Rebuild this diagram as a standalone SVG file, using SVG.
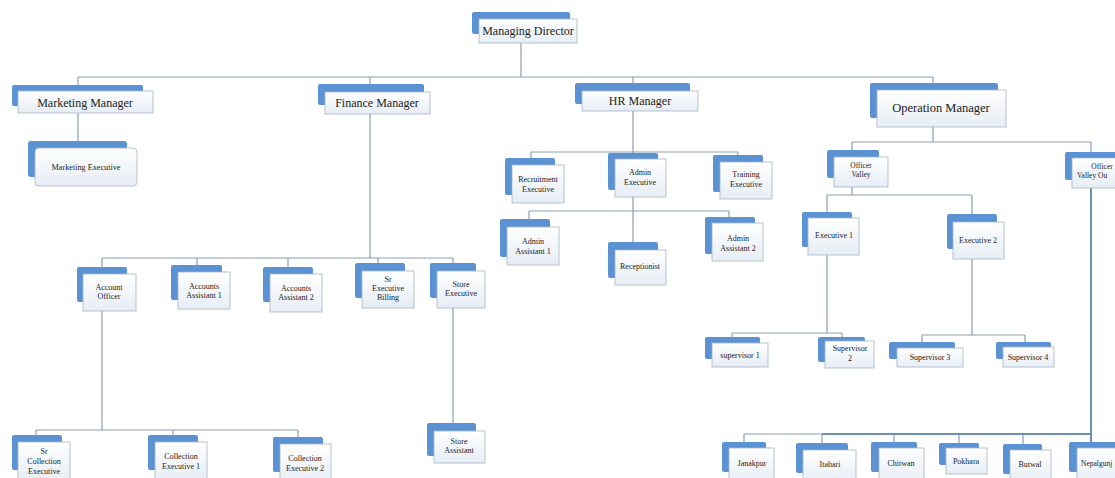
<svg xmlns="http://www.w3.org/2000/svg" width="1115" height="478" viewBox="0 0 1115 478">
<defs>
<linearGradient id="wg" x1="0" y1="0" x2="0" y2="1">
<stop offset="0" stop-color="#ffffff"/>
<stop offset="1" stop-color="#e6edf5"/>
</linearGradient>
</defs>
<style>
.b{fill:#5b92d4}
.w{fill:url(#wg);stroke:#a9b5c1;stroke-width:0.8}
.t{font-family:"Liberation Serif","Times New Roman",serif;font-size:12px;fill:#222;text-anchor:middle}
.s{font-family:"Liberation Serif","Times New Roman",serif;font-size:8px;fill:#222;text-anchor:middle}
.c{fill:none;stroke:#8a9fb3;stroke-width:1.2}
.k{fill:none;stroke:#6f8fac;stroke-width:2}
</style>
<rect width="1115" height="478" fill="#ffffff"/>
<g id="connectors">
<path class="c" d="M521 43V77M78 77H933M78 77V85M370 77V84M633 77V83M933 77V83"/>
<path class="c" d="M78 113V141"/>
<path class="c" d="M370 114V258M102 258H453M102 258V267M197 258V265M288 258V267M378 258V263M453 258V263"/>
<path class="c" d="M102 311V430M36 430H298M36 430V435M173 430V435M298 430V437"/>
<path class="c" d="M453 308V423"/>
<path class="c" d="M633 111V152M531 152H738M531 152V158M633 152V153M738 152V155"/>
<path class="c" d="M633 197V242M529 211H729M529 211V219M729 211V217"/>
<path class="c" d="M933 127V142M852 142H1091M852 142V150M1091 142V152"/>
<path class="c" d="M852 187V195M827 195H972M827 195V212M972 195V214"/>
<path class="c" d="M827 255V333M732 333H842M732 333V337M842 333V337"/>
<path class="c" d="M972 259V335M922 335H1025M922 335V342M1025 335V342"/>
<path class="c" d="M744 434H822M744 434V442M822 434V443M894 434V442M959 434V443M1023 434V444"/>
<path class="k" d="M1091 188V442M822 434H1091"/>
</g>
<g id="md"><rect class="b" x="472" y="12" width="98" height="22" rx="2"/><rect class="w" x="479" y="19" width="98" height="24"/><text class="t" x="528" y="35">Managing Director</text></g>
<g id="marketing-manager"><rect class="b" x="12" y="85" width="131" height="21" rx="2"/><rect class="w" x="18" y="91" width="135" height="22"/><text class="t" x="85" y="107">Marketing Manager</text></g>
<g id="finance-manager"><rect class="b" x="318" y="84" width="106" height="21" rx="2"/><rect class="w" x="325" y="92" width="105" height="22"/><text class="t" x="377" y="107">Finance Manager</text></g>
<g id="hr-manager"><rect class="b" x="575" y="83" width="115" height="21" rx="2"/><rect class="w" x="582" y="91" width="116" height="20"/><text class="t" x="640" y="105">HR Manager</text></g>
<g id="operation-manager"><rect class="b" x="870" y="83" width="128" height="35" rx="2"/><rect class="w" x="877" y="90" width="129" height="37"/><text class="t" x="941" y="112" style="font-size:12.5px">Operation Manager</text></g>
<g id="marketing-executive"><rect class="b" x="28" y="141" width="99" height="36" rx="3"/><rect class="w" x="35" y="148" width="102" height="38" rx="4"/><text class="s" x="86" y="170" style="font-size:8.2px">Marketing Executive</text></g>
<g id="account-officer"><rect class="b" x="77" y="267" width="50" height="35" rx="2"/><rect class="w" x="83" y="274" width="53" height="37"/><text class="s" x="109" y="290">Account</text><text class="s" x="109" y="299">Officer</text></g>
<g id="accounts-assistant-1"><rect class="b" x="171" y="265" width="51" height="35" rx="2"/><rect class="w" x="178" y="272" width="52" height="37"/><text class="s" x="204" y="289">Accounts</text><text class="s" x="204" y="298">Assistant 1</text></g>
<g id="accounts-assistant-2"><rect class="b" x="263" y="267" width="50" height="35" rx="2"/><rect class="w" x="270" y="274" width="52" height="38"/><text class="s" x="296" y="291">Accounts</text><text class="s" x="296" y="300">Assistant 2</text></g>
<g id="sr-executive-billing"><rect class="b" x="355" y="263" width="50" height="35" rx="2"/><rect class="w" x="362" y="271" width="52" height="37"/><text class="s" x="388" y="282">Sr</text><text class="s" x="388" y="291">Executive</text><text class="s" x="388" y="300">Billing</text></g>
<g id="store-executive"><rect class="b" x="430" y="263" width="46" height="35" rx="2"/><rect class="w" x="437" y="271" width="48" height="37"/><text class="s" x="461" y="287">Store</text><text class="s" x="461" y="296">Executive</text></g>
<g id="sr-collection-executive"><rect class="b" x="12" y="435" width="50" height="35" rx="2"/><rect class="w" x="18" y="442" width="52" height="40"/><text class="s" x="44" y="454">Sr</text><text class="s" x="44" y="464">Collection</text><text class="s" x="44" y="474">Executive</text></g>
<g id="collection-executive-1"><rect class="b" x="148" y="435" width="50" height="35" rx="2"/><rect class="w" x="155" y="442" width="52" height="40"/><text class="s" x="181" y="459">Collection</text><text class="s" x="181" y="469">Executive 1</text></g>
<g id="collection-executive-2"><rect class="b" x="273" y="437" width="50" height="35" rx="2"/><rect class="w" x="280" y="444" width="51" height="40"/><text class="s" x="305" y="461">Collection</text><text class="s" x="305" y="471">Executive 2</text></g>
<g id="store-assistant"><rect class="b" x="427" y="423" width="49" height="33" rx="2"/><rect class="w" x="434" y="431" width="51" height="32"/><text class="s" x="459" y="444">Store</text><text class="s" x="459" y="453">Assistant</text></g>
<g id="recruitment-executive"><rect class="b" x="505" y="158" width="50" height="37" rx="2"/><rect class="w" x="512" y="165" width="52" height="38"/><text class="s" x="538" y="182">Recruitment</text><text class="s" x="538" y="192">Executive</text></g>
<g id="admin-executive"><rect class="b" x="608" y="153" width="50" height="37" rx="2"/><rect class="w" x="615" y="159" width="51" height="38"/><text class="s" x="640" y="175">Admin</text><text class="s" x="640" y="185">Executive</text></g>
<g id="training-executive"><rect class="b" x="713" y="155" width="50" height="37" rx="2"/><rect class="w" x="720" y="162" width="52" height="37"/><text class="s" x="746" y="177">Training</text><text class="s" x="746" y="187">Executive</text></g>
<g id="admin-assistant-1"><rect class="b" x="500" y="219" width="50" height="38" rx="2"/><rect class="w" x="507" y="227" width="52" height="38"/><text class="s" x="533" y="244">Admin</text><text class="s" x="533" y="254">Assistant 1</text></g>
<g id="receptionist"><rect class="b" x="608" y="242" width="50" height="36" rx="2"/><rect class="w" x="615" y="250" width="51" height="35"/><text class="s" x="640" y="269">Receptionist</text></g>
<g id="admin-assistant-2"><rect class="b" x="705" y="217" width="50" height="37" rx="2"/><rect class="w" x="712" y="223" width="51" height="38"/><text class="s" x="738" y="241">Admin</text><text class="s" x="738" y="251">Assistant 2</text></g>
<g id="officer-valley"><rect class="b" x="827" y="150" width="52" height="28" rx="2"/><rect class="w" x="834" y="157" width="54" height="30"/><text class="s" x="861" y="168" style="font-size:7.5px">Officer</text><text class="s" x="861" y="177" style="font-size:7.5px">Valley</text></g>
<g id="officer-valley-outside"><rect class="b" x="1065" y="152" width="60" height="28" rx="2"/><rect class="w" x="1072" y="158" width="60" height="30"/><text class="s" x="1102" y="169" style="font-size:7.5px">Officer</text><text class="s" x="1077" y="178" style="font-size:7.5px;text-anchor:start">Valley Ou</text></g>
<g id="executive-1"><rect class="b" x="802" y="212" width="50" height="35" rx="2"/><rect class="w" x="808" y="218" width="51" height="37"/><text class="s" x="834" y="238">Executive 1</text></g>
<g id="executive-2"><rect class="b" x="947" y="214" width="50" height="35" rx="2"/><rect class="w" x="953" y="222" width="51" height="37"/><text class="s" x="978" y="243">Executive 2</text></g>
<g id="supervisor-1"><rect class="b" x="705" y="337" width="55" height="22" rx="2"/><rect class="w" x="712" y="343" width="56" height="24"/><text class="s" x="740" y="358">supervisor 1</text></g>
<g id="supervisor-2"><rect class="b" x="818" y="337" width="47" height="25" rx="2"/><rect class="w" x="825" y="341" width="49" height="27"/><text class="s" x="850" y="351">Supervisor</text><text class="s" x="850" y="361">2</text></g>
<g id="supervisor-3"><rect class="b" x="889" y="342" width="66" height="17" rx="2"/><rect class="w" x="897" y="348" width="66" height="19"/><text class="s" x="930" y="360">Supervisor 3</text></g>
<g id="supervisor-4"><rect class="b" x="996" y="342" width="55" height="17" rx="2"/><rect class="w" x="1003" y="347" width="51" height="20"/><text class="s" x="1028" y="360">Supervisor 4</text></g>
<g id="janakpur"><rect class="b" x="722" y="442" width="44" height="30" rx="2"/><rect class="w" x="729" y="448" width="45" height="35"/><text class="s" x="752" y="466">Janakpur</text></g>
<g id="itahari"><rect class="b" x="796" y="443" width="52" height="30" rx="2"/><rect class="w" x="803" y="450" width="53" height="33"/><text class="s" x="830" y="467">Itahari</text></g>
<g id="chitwan"><rect class="b" x="871" y="442" width="46" height="30" rx="2"/><rect class="w" x="879" y="448" width="45" height="35"/><text class="s" x="901" y="466">Chitwan</text></g>
<g id="pokhara"><rect class="b" x="939" y="443" width="40" height="22" rx="2"/><rect class="w" x="946" y="448" width="41" height="26"/><text class="s" x="966" y="464">Pokhara</text></g>
<g id="butwal"><rect class="b" x="1003" y="444" width="39" height="30" rx="2"/><rect class="w" x="1010" y="450" width="41" height="33"/><text class="s" x="1030" y="467">Butwal</text></g>
<g id="nepalgunj"><rect class="b" x="1069" y="442" width="60" height="30" rx="2"/><rect class="w" x="1077" y="448" width="60" height="35"/><text class="s" x="1081" y="466" style="font-size:7.5px;text-anchor:start">Nepalgunj</text></g>
</svg>
